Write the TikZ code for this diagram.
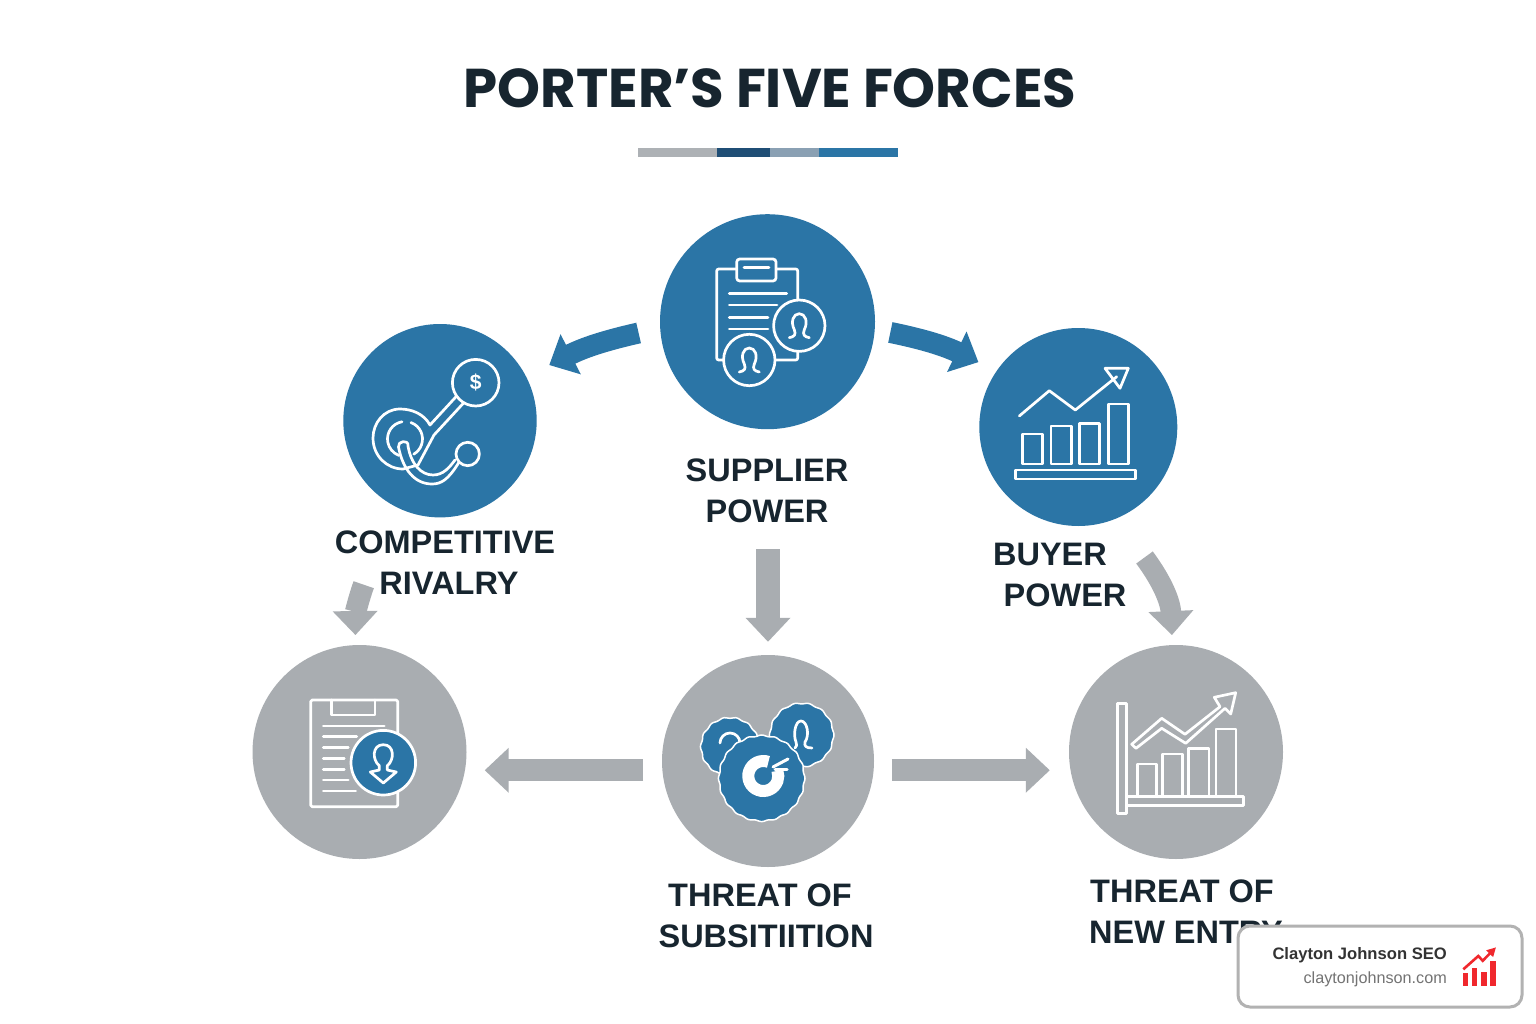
\documentclass[tikz,border=0pt]{standalone}
\usepackage{fontspec}
\usepackage{tikz}
\usetikzlibrary{arrows.meta,calc}
\setmainfont{Liberation Sans}
\newfontfamily\titlefont{Poppins}
\definecolor{forceblue}{HTML}{2B75A6}
\definecolor{forcegray}{HTML}{A9ADB1}
\definecolor{forcetext}{HTML}{17252F}
\definecolor{barnavy}{HTML}{1F4E75}
\definecolor{barslate}{HTML}{8AA0B3}
\definecolor{logored}{HTML}{F0282D}
\tikzset{
	forcecircle/.style = {circle, inner sep = 0pt, minimum size = #1},
	forcetxt/.style = {align = center, inner sep = 0pt, text = forcetext, font = \bfseries\fontsize{32.5}{41}\selectfont},
	iconline/.style = {draw = white, line width = 2.7pt, line join = round, line cap = round},
	blueflow/.style = {draw = forceblue, line width = 21pt, -{Triangle[length = 24pt, width = 43.5pt]}},
	grayflow/.style = {draw = forcegray, line width = 22pt, -{Triangle[length = 24pt, width = 43.5pt]}}
}
\begin{document}
\begin{tikzpicture}[x = 1pt, y = -1pt]
	\useasboundingbox (0,0) rectangle (1536,1024);
	\fill [white] (0,0) rectangle (1536,1024);

	\node (title) at (770,88) [inner sep = 0pt, text = forcetext, font = \titlefont\bfseries\fontsize{54.6}{60}\selectfont] {PORTER’S FIVE FORCES};
	\fill [fill = forcegray!95!white] (638,148) rectangle (717,157);
	\fill [fill = barnavy] (717,148) rectangle (770,157);
	\fill [fill = barslate] (770,148) rectangle (819,157);
	\fill [fill = forceblue] (819,148) rectangle (898,157);

	\node (supplier) at (767.5,321.7) [forcecircle = 215pt, fill = forceblue] {};
	\node (rivalry) at (440,420.7) [forcecircle = 193.4pt, fill = forceblue] {};
	\node (buyer) at (1078.3,427) [forcecircle = 198pt, fill = forceblue] {};
	\node (threat) at (359.5,752) [forcecircle = 214pt, fill = forcegray] {};
	\node (subst) at (768,761) [forcecircle = 212pt, fill = forcegray] {};
	\node (entry) at (1176,752) [forcecircle = 214pt, fill = forcegray] {};

	\node (suppliertxt) at (767,491) [forcetxt] {SUPPLIER\\POWER};
	\node (rivalrytxt) at (445,563) [forcetxt] {COMPETITIVE\\\hspace*{8pt}RIVALRY};
	\node (buyertxt) at (1059,575) [forcetxt] {\hspace*{-18pt}BUYER\\\hspace*{12pt}POWER};
	\node (substtxt) at (766,916) [forcetxt] {\hspace*{-12pt}THREAT OF\\SUBSITIITION};
	\node (entrytxt) at (1186,912) [forcetxt] {\hspace*{-8pt}THREAT OF\\NEW ENTRY};

	\coordinate (rivalstart) at (363.7,584.7);
	\coordinate (buyerstart) at (1144.5,557.5);
	\draw [blueflow] ($(supplier)!129.4pt!(supplier.185.7)$) to [bend right = 7] ($(rivalry)!122.6pt!(rivalry.27.9)$);
	\draw [blueflow] ($(supplier)!123.3pt!(supplier.-5.26)$) to [bend left = 7] ($(buyer)!119.1pt!(buyer.147.7)$);
	\draw [grayflow, line width = 24pt, shorten < = 26pt, shorten > = 13pt] (suppliertxt.south -| subst.north) -- (subst.north);
	\draw [grayflow, line width = 21.5pt] (rivalstart) to [bend right = 10] ($(threat)!117pt!(threat.92)$);
	\draw [grayflow, line width = 20.5pt] (buyerstart) to [bend left = 17] ($(entry)!117pt!(entry.92)$);
	\draw [grayflow, shorten < = 19pt, shorten > = 18pt] (subst.185) -- (subst.185 -| threat.east);
	\draw [grayflow, shorten < = 18pt, shorten > = 19pt] (subst.-5) -- (subst.-5 -| entry.west);

	% supplier icon
	\draw [iconline, rounded corners = 2pt] (716.7,269) rectangle (797.7,360);
	\draw [iconline, fill = forceblue, rounded corners = 3pt] (736.7,259) rectangle (776,281);
	\draw [iconline] (744,267.7) -- (769,267.7);
	\draw [iconline] (729.3,293.7) -- (786.7,293.7);
	\draw [iconline] (729.3,305) -- (777,305);
	\draw [iconline] (729.3,317.7) -- (768,317.7);
	\draw [iconline] (729.3,329) -- (768,329);
	\foreach \cx/\cy in {799.3/325.7,749.3/360}{
		\draw [iconline, fill = forceblue] (\cx,\cy) circle (25.7);
		\draw [iconline] (\cx-10,\cy+12) .. controls (\cx-5,\cy+11) and (\cx-3,\cy+9) .. (\cx-5,\cy+4) .. controls (\cx-9,\cy-4) and (\cx-6,\cy-12) .. (\cx,\cy-12) .. controls (\cx+6,\cy-12) and (\cx+9,\cy-4) .. (\cx+5,\cy+4) .. controls (\cx+3,\cy+9) and (\cx+5,\cy+11) .. (\cx+10,\cy+12);
	}

	% rivalry icon
	\draw [iconline] (456.7,396) -- (430,425) .. controls (424,414) and (412,409) .. (400,409) .. controls (384,409) and (373,423) .. (373,438) .. controls (373,456) and (387,469) .. (403,469) -- (418,465) -- (434,435) -- (463.3,403.3);
	\draw [iconline] (405,439) ++(-100:17.5) arc [start angle = -100, end angle = -250, radius = 17.5];
	\draw [iconline] (405,439) ++(-70:17.5) arc [start angle = -70, end angle = 60, radius = 17.5];
	\draw [iconline] (458.5,463) .. controls (448,480) and (441,484) .. (432,484) .. controls (415,484) and (403,470) .. (398.5,447) .. controls (397,441) and (409,439) .. (408,446) .. controls (411,464) and (421,475) .. (433,475) .. controls (443,475) and (449,468) .. (455,460);
	\draw [iconline] (467.7,454) circle (11.7);
	\node (dollar) at (475.7,382.7) [iconline, circle, inner sep = 0pt, minimum size = 46.6pt, text = white, font = \bfseries\fontsize{21}{21}\selectfont] {\$};

	% buyer icon
	\foreach \lx/\rx/\ty in {1022.7/1042.7/434,1051/1071.7/426,1079.3/1099.3/423.3,1108.3/1128.3/404}{
		\draw [iconline, line cap = butt] (\lx,\ty) rectangle (\rx,464);
	}
	\draw [iconline] (1015.7,470) rectangle (1135.7,479);
	\draw [iconline] (1019.3,416) -- (1049.3,390.7) -- (1075.3,410) -- (1116.7,376.7);
	\draw [iconline] (1105,368.3) -- (1128.3,368.3) -- (1120,388.3) -- cycle;

	% threat icon
	\draw [iconline, rounded corners = 1.5pt] (310.7,700) rectangle (397.7,806.7);
	\draw [iconline] (331.7,700) -- (331.7,715) -- (375,715) -- (375,700);
	\foreach \ex/\ly in {384.3/726,356.7/736.7,348.3/747.7,344.3/758.3,344.3/769.3,348.3/780,355.7/791}{
		\draw [iconline] (323.3,\ly) -- (\ex,\ly);
	}
	\draw [iconline, fill = forceblue] (383.3,762.7) circle (32.3);
	\draw [iconline] (379.3,765.7) .. controls (372,760) and (372,744.7) .. (383.3,744.7) .. controls (394.6,744.7) and (394.6,760) .. (387.3,765.7) -- (387.3,770) -- (396.3,772) -- (383.3,783) -- (370.3,772) -- (379.3,770) -- cycle;

	% substitution icon
	\foreach \cx/\cy/\cr in {730/746.7/29,801.7/735/31.7}{
		\draw [draw = white, line width = 1.5pt, fill = forceblue] plot [domain = 0:360, samples = 97, smooth] ({\cx+(\cr+0.6*cos(14*\x))*cos(\x)},{\cy+(\cr+0.6*cos(14*\x))*sin(\x)}) -- cycle;
	}
	\draw [iconline] (730,743) ++(-180:10) arc [start angle = -180, end angle = 0, radius = 10];
	\draw [iconline] (795,748) .. controls (797,746) and (797,745) .. (796,742) .. controls (793,735) and (795,721) .. (801,721) .. controls (807,721) and (810,735) .. (805,742) .. controls (804,746) and (806,748) .. (812,748);
	\draw [draw = white, line width = 1.5pt, fill = forceblue] plot [domain = 0:360, samples = 145, smooth] ({761.7+(42.7+0.6*cos(20*\x))*cos(\x)},{778.3+(42.7+0.6*cos(20*\x))*sin(\x)}) -- cycle;
	\draw [draw = white, line width = 12pt] (763.3,776) ++(-70:15) arc [start angle = -70, end angle = -380, radius = 15];
	\draw [iconline, line width = 3pt] (773,767) -- (788,759);
	\draw [iconline, line width = 3pt] (775,769) -- (787,769);

	% new entry icon
	\draw [iconline] (1117.3,703.3) rectangle (1126.7,813.3);
	\draw [iconline] (1126.7,796.7) rectangle (1243.3,805.7);
	\foreach \lx/\rx/\ty in {1137.3/1156.7/764,1162.7/1182.3/754,1188.3/1209/748.3,1216/1236/729}{
		\draw [iconline] (\lx,795.7) -- (\lx,\ty) -- (\rx,\ty) -- (\rx,795.7);
	}
	\draw [iconline] (1131.7,744.3) -- (1161.7,718.3) -- (1185,734.3) -- (1220,706.7) -- (1214.3,697.3) -- (1235.7,692.7) -- (1230.7,714) -- (1225,708.3) -- (1185.7,743.3) -- (1161.7,728.3) -- (1136,748.3) -- cycle;

	% badge
	\node (badge) at (1380,966.5) [draw = black!30, line width = 3pt, fill = white, rounded corners = 12pt, minimum width = 284pt, minimum height = 81pt] {};
	\node (badgename) [anchor = east, inner sep = 0pt, text = black!80, font = \bfseries\fontsize{16.6}{20}\selectfont] at (1447,955) {Clayton Johnson SEO};
	\node (badgeurl) [anchor = east, inner sep = 0pt, text = black!55, font = \fontsize{16.2}{20}\selectfont] at (1447,979) {claytonjohnson.com};
	\foreach \lx/\ty in {1462.7/973.3,1471.7/968.3,1481/971.7,1490/960.7}{
		\fill [logored] (\lx,\ty) rectangle (\lx+5.7,986);
	}
	\draw [draw = logored, line width = 2.6pt, -{Triangle[length = 9pt, width = 9pt]}] (1463.3,969.3) -- (1478.3,956) -- (1482.7,960.7) -- (1496,947.3);
\end{tikzpicture}
\end{document}
